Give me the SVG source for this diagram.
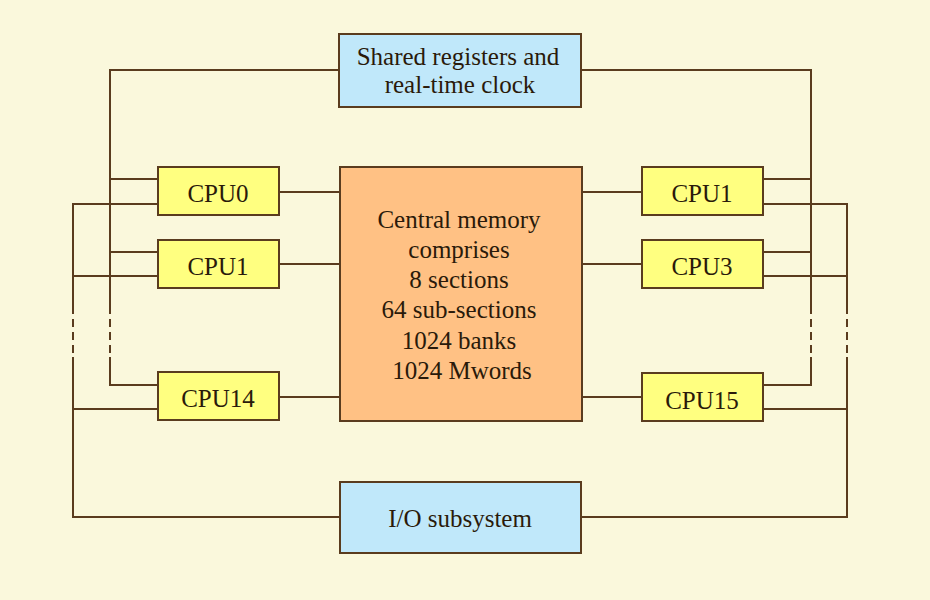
<svg xmlns="http://www.w3.org/2000/svg" width="930" height="600" viewBox="0 0 930 600">
<style>
.bg{fill:#FAF8DC}
.box{stroke:#5A3C1E;stroke-width:2}
.cpu{fill:#FFFF80}
.blue{fill:#C0E8FA}
.mem{fill:#FFC184}
.ln{fill:none;stroke:#5A3C1E;stroke-width:2}
.dash{fill:none;stroke:#5A3C1E;stroke-width:2;stroke-dasharray:8,5}
text{font-family:"Liberation Serif","Times New Roman",serif;font-size:25px;fill:#2A1A0A;text-anchor:middle}
</style>
<rect class="bg" x="0" y="0" width="930" height="600"/>
<g id="connectors">
<!-- top shared registers bus -->
<path class="ln" d="M339,70 H110 V306 M110,357 V385 H158"/>
<path class="dash" d="M110,306 V357"/>
<path class="ln" d="M581,70 H811 V306 M811,357 V385 H763"/>
<path class="dash" d="M811,306 V357"/>
<path class="ln" d="M110,179 H158 M110,252 H158 M811,179 H763 M811,252 H763"/>
<!-- I/O bus -->
<path class="ln" d="M340,517 H73 V357 M73,306 V204 H158 M73,276 H158 M73,409 H158"/>
<path class="dash" d="M73,306 V357"/>
<path class="ln" d="M581,517 H847 V357 M847,306 V204 H763 M847,276 H763 M847,409 H763"/>
<path class="dash" d="M847,306 V357"/>
<!-- memory links -->
<path class="ln" d="M279,192 H340 M279,264 H340 M279,397 H340 M582,192 H642 M582,264 H642 M582,397 H642"/>
</g>
<g id="shared">
<rect class="box blue" x="339" y="34" width="242" height="73"/>
<text x="458" y="65">Shared registers and</text>
<text x="460" y="93">real-time clock</text>
</g>
<g id="memory">
<rect class="box mem" x="340" y="167" width="242" height="254"/>
<text x="459" y="228">Central memory</text>
<text x="459" y="258">comprises</text>
<text x="459" y="288">8 sections</text>
<text x="459" y="318">64 sub-sections</text>
<text x="459" y="349">1024 banks</text>
<text x="462" y="379">1024 Mwords</text>
</g>
<g id="io">
<rect class="box blue" x="340" y="482" width="241" height="71"/>
<text x="460" y="527">I/O subsystem</text>
</g>
<g id="cpu0">
<rect class="box cpu" x="158" y="167" width="121" height="48"/>
<text x="218" y="202">CPU0</text>
</g>
<g id="cpu1-left">
<rect class="box cpu" x="158" y="240" width="121" height="48"/>
<text x="218" y="275">CPU1</text>
</g>
<g id="cpu14">
<rect class="box cpu" x="158" y="372" width="121" height="48"/>
<text x="218" y="407">CPU14</text>
</g>
<g id="cpu1-right">
<rect class="box cpu" x="642" y="167" width="121" height="48"/>
<text x="702" y="202">CPU1</text>
</g>
<g id="cpu3">
<rect class="box cpu" x="642" y="240" width="121" height="48"/>
<text x="702" y="275">CPU3</text>
</g>
<g id="cpu15">
<rect class="box cpu" x="642" y="373" width="121" height="48"/>
<text x="702" y="409">CPU15</text>
</g>
</svg>
